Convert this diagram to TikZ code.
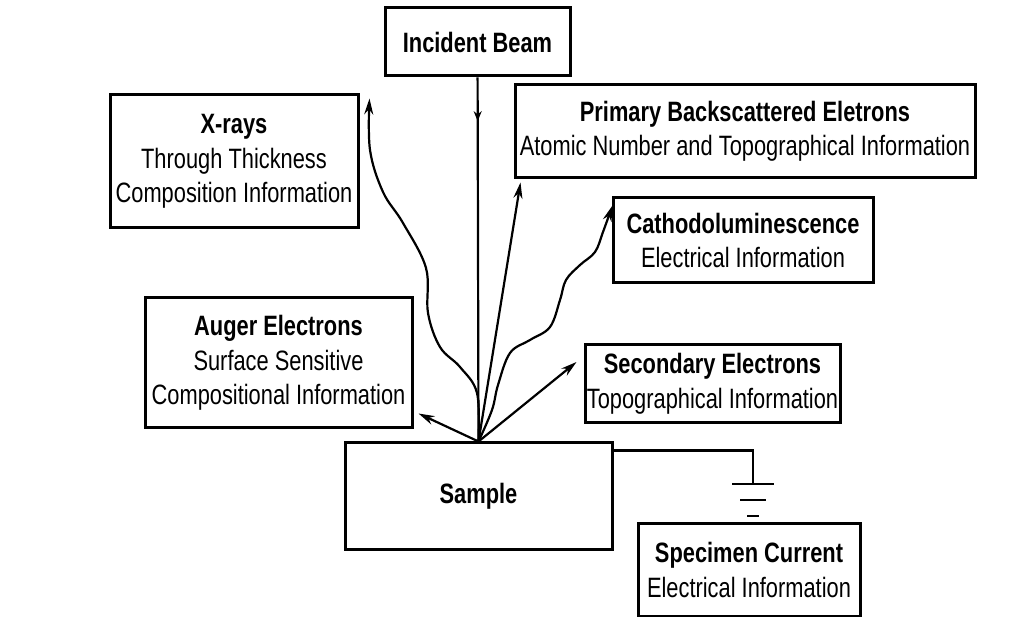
\documentclass[tikz,border=0pt]{standalone}
\usepackage{fontspec}
\setmainfont{Liberation Sans}[FakeStretch=0.78]
\usetikzlibrary{arrows.meta,decorations.markings,positioning}
\tikzset{
info/.style={draw, line width=3pt, align=center, inner sep=0pt,
  font=\fontsize{28}{34.5}\selectfont}, % box for each kind of signal
signal/.style={line width=2.2pt, -{Stealth[length=16pt,width=9pt]}}, % emitted signal
%wire/.style={line width=2.2pt},
}

\begin{document}
\begin{tikzpicture}[x=1pt,y=-1pt]
\useasboundingbox (0,0) rectangle (1013,617);
   \node[info, minimum width=185pt, minimum height=68pt] (beam) at (477.5,42) {\bfseries Incident Beam};
   \node[info, minimum width=248pt, minimum height=133pt] (x_ray) at (234,161.5)
     {\bfseries X-rays\\Through Thickness\\Composition Information};
   \node[info, minimum width=460pt, minimum height=93pt] (bse) at (745,131.5)
     {\bfseries Primary Backscattered Eletrons\\Atomic Number and Topographical Information};
   \node[info, minimum width=260pt, minimum height=85pt] (cl) at (743,240.5)
     {\bfseries Cathodoluminescence\\Electrical Information};
   \node[info, minimum width=267pt, minimum height=130pt] (auger) at (278.5,363)
     {\bfseries Auger Electrons\\Surface Sensitive\\Compositional Information};
   \node[info, minimum width=255pt, minimum height=78pt] (se) at (712.5,384)
     {\bfseries Secondary Electrons\\Topographical Information};
   \node[info, minimum width=267pt, minimum height=107pt] (sample) at (478.5,496.5) {\bfseries Sample};
   \node[info, minimum width=222pt, minimum height=92pt] (sc) at (749,570)
     {\bfseries Specimen Current\\Electrical Information};
   \coordinate (gnd) at (753,484);

   % incident beam
   \draw[line width=2.2pt, postaction={decorate}, decoration={markings,
     mark=at position 0.12 with {\arrow{Stealth[length=10pt,width=8pt]}}}]
     (beam) -- (sample.north);
   % signals out of the sample
   \draw[signal] (sample.north) -- ([xshift=7pt,yshift=-3pt]bse.south west);
   \draw[signal] (sample.north) -- ([xshift=-7pt,yshift=22pt]se.west);
   \draw[signal] (sample.north) -- ([xshift=5pt,yshift=16pt]auger.south east);
   \draw[signal] plot[smooth, tension=0.6] coordinates {(sample.north) (477,393) (460,367)
     (440,347) (428,313) (426,268) (403,223) (383,192) (370,150) ([xshift=10pt,yshift=-5pt]x_ray.north east)};
   \draw[signal] plot[smooth, tension=0.6] coordinates {(sample.north) (492,410) (498,385)
     (510,353) (530,340) (550,327) (560,300) (566,280) (580,265) (595,252) (603,232)
     ([xshift=1pt,yshift=-9pt]cl.north west)};
   % ground
   \draw[line width=2.2pt] ([yshift=-9pt]sample.north east) -| (gnd);
   \draw[line width=2.8pt] ([xshift=-21pt]gnd) -- ([xshift=21pt]gnd)
     ([shift={(-13,16)}]gnd) -- ([shift={(13,16)}]gnd)
     ([shift={(-6,32)}]gnd) -- ([shift={(6,32)}]gnd);
\end{tikzpicture}
\end{document}
